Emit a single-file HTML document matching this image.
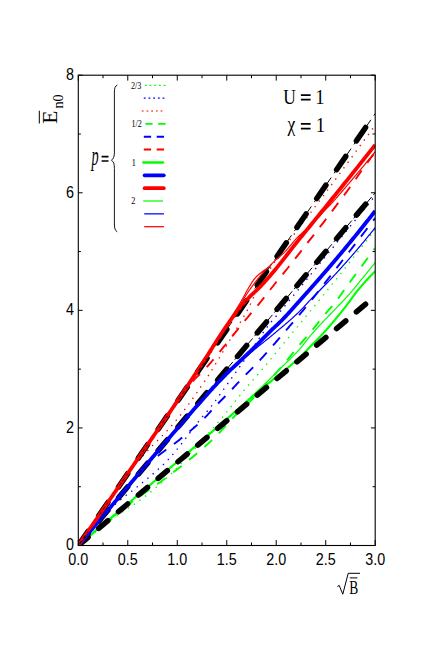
<!DOCTYPE html>
<html><head><meta charset="utf-8"><title>chart</title>
<style>html,body{margin:0;padding:0;background:#fff;}body{width:436px;height:654px;overflow:hidden;font-family:"Liberation Sans",sans-serif;}</style></head>
<body>
<svg width="436" height="654" viewBox="0 0 436 654" style="display:block">
<rect x="0" y="0" width="436" height="654" fill="#ffffff"/>
<defs><clipPath id="pc"><rect x="78.30" y="75.20" width="296.90" height="470.30"/></clipPath></defs>
<g clip-path="url(#pc)" fill="none" stroke-linejoin="round">
<path d="M78.30,545.50 L79.29,544.69 L80.29,543.88 L81.28,543.08 L82.27,542.27 L83.26,541.47 L84.26,540.68 L85.25,539.88 L86.24,539.09 L87.24,538.30 L88.23,537.52 L89.22,536.73 L90.22,535.95 L91.21,535.17 L92.20,534.40 L93.19,533.62 L94.19,532.85 L95.18,532.09 L96.17,531.32 L97.17,530.56 L98.16,529.80 L99.15,529.04 L100.15,528.29 L101.14,527.53 L102.13,526.78 L103.12,526.04 L104.12,525.29 L105.11,524.55 L106.10,523.81 L107.10,523.07 L108.09,522.33 L109.08,521.59 L110.08,520.86 L111.07,520.13 L112.06,519.40 L113.05,518.67 L114.05,517.95 L115.04,517.23 L116.03,516.52 L117.03,515.81 L118.02,515.10 L119.01,514.40 L120.01,513.70 L121.00,513.01 L121.99,512.33 L122.98,511.65 L123.98,510.97 L124.97,510.31 L125.96,509.66 L126.96,509.03 L127.95,508.41 L128.94,507.79 L129.93,507.17 L130.93,506.54 L131.92,505.90 L132.91,505.25 L133.91,504.57 L134.90,503.89 L135.89,503.19 L136.89,502.49 L137.88,501.78 L138.87,501.07 L139.86,500.35 L140.86,499.62 L141.85,498.89 L142.84,498.15 L143.84,497.40 L144.83,496.64 L145.82,495.88 L146.82,495.11 L147.81,494.34 L148.80,493.56 L149.79,492.77 L150.79,491.97 L151.78,491.16 L152.77,490.35 L153.77,489.53 L154.76,488.69 L155.75,487.85 L156.75,486.99 L157.74,486.12 L158.73,485.24 L159.72,484.35 L160.72,483.46 L161.71,482.55 L162.70,481.64 L163.70,480.73 L164.69,479.81 L165.68,478.89 L166.67,477.96 L167.67,477.03 L168.66,476.09 L169.65,475.15 L170.65,474.21 L171.64,473.25 L172.63,472.29 L173.63,471.31 L174.62,470.32 L175.61,469.32 L176.60,468.30 L177.60,467.26 L178.59,466.18 L179.58,465.06 L180.58,463.93 L181.57,462.78 L182.56,461.64 L183.56,460.51 L184.55,459.40 L185.54,458.33 L186.53,457.27 L187.53,456.22 L188.52,455.19 L189.51,454.16 L190.51,453.14 L191.50,452.11 L192.49,451.09 L193.49,450.05 L194.48,449.00 L195.47,447.94 L196.46,446.87 L197.46,445.79 L198.45,444.70 L199.44,443.61 L200.44,442.52 L201.43,441.42 L202.42,440.31 L203.42,439.20 L204.41,438.09 L205.40,436.97 L206.39,435.84 L207.39,434.72 L208.38,433.59 L209.37,432.46 L210.37,431.32 L211.36,430.18 L212.35,429.04 L213.34,427.90 L214.34,426.75 L215.33,425.60 L216.32,424.44 L217.32,423.28 L218.31,422.12 L219.30,420.95 L220.30,419.78 L221.29,418.60 L222.28,417.41 L223.27,416.23 L224.27,415.04 L225.26,413.84 L226.25,412.64 L227.25,411.43 L228.24,410.20 L229.23,408.97 L230.23,407.72 L231.22,406.48 L232.21,405.22 L233.20,403.96 L234.20,402.70 L235.19,401.43 L236.18,400.17 L237.18,398.91 L238.17,397.65 L239.16,396.40 L240.16,395.15 L241.15,393.91 L242.14,392.68 L243.13,391.46 L244.13,390.25 L245.12,389.05 L246.11,387.87 L247.11,386.70 L248.10,385.54 L249.09,384.39 L250.08,383.25 L251.08,382.12 L252.07,380.99 L253.06,379.86 L254.06,378.74 L255.05,377.62 L256.04,376.50 L257.04,375.38 L258.03,374.25 L259.02,373.12 L260.01,371.98 L261.01,370.84 L262.00,369.68 L262.99,368.52 L263.99,367.35 L264.98,366.16 L265.97,364.97 L266.97,363.77 L267.96,362.57 L268.95,361.36 L269.94,360.15 L270.94,358.94 L271.93,357.72 L272.92,356.51 L273.92,355.29 L274.91,354.08 L275.90,352.87 L276.90,351.66 L277.89,350.45 L278.88,349.25 L279.87,348.05 L280.87,346.84 L281.86,345.64 L282.85,344.44 L283.85,343.23 L284.84,342.03 L285.83,340.83 L286.83,339.63 L287.82,338.43 L288.81,337.22 L289.80,336.02 L290.80,334.82 L291.79,333.62 L292.78,332.42 L293.78,331.21 L294.77,330.01 L295.76,328.81 L296.75,327.61 L297.75,326.40 L298.74,325.20 L299.73,323.99 L300.73,322.79 L301.72,321.58 L302.71,320.37 L303.71,319.16 L304.70,317.96 L305.69,316.75 L306.68,315.54 L307.68,314.32 L308.67,313.11 L309.66,311.90 L310.66,310.68 L311.65,309.47 L312.64,308.25 L313.64,307.04 L314.63,305.83 L315.62,304.61 L316.61,303.40 L317.61,302.18 L318.60,300.97 L319.59,299.75 L320.59,298.54 L321.58,297.32 L322.57,296.10 L323.57,294.88 L324.56,293.66 L325.55,292.44 L326.54,291.22 L327.54,289.99 L328.53,288.77 L329.52,287.54 L330.52,286.31 L331.51,285.08 L332.50,283.85 L333.49,282.61 L334.49,281.38 L335.48,280.14 L336.47,278.90 L337.47,277.65 L338.46,276.41 L339.45,275.16 L340.45,273.91 L341.44,272.66 L342.43,271.40 L343.42,270.15 L344.42,268.89 L345.41,267.64 L346.40,266.38 L347.40,265.12 L348.39,263.86 L349.38,262.59 L350.38,261.33 L351.37,260.06 L352.36,258.80 L353.35,257.53 L354.35,256.26 L355.34,254.99 L356.33,253.71 L357.33,252.44 L358.32,251.16 L359.31,249.88 L360.31,248.60 L361.30,247.32 L362.29,246.04 L363.28,244.76 L364.28,243.47 L365.27,242.18 L366.26,240.89 L367.26,239.60 L368.25,238.31 L369.24,237.02 L370.24,235.72 L371.23,234.43 L372.22,233.13 L373.21,231.83 L374.21,230.53 L375.20,229.22" stroke="#00ff00" stroke-width="1.35" stroke-dasharray="1.4 5.5"/>
<path d="M78.30,545.50 L79.29,544.15 L80.29,542.82 L81.28,541.49 L82.27,540.19 L83.26,538.89 L84.26,537.61 L85.25,536.34 L86.24,535.08 L87.24,533.84 L88.23,532.61 L89.22,531.40 L90.22,530.19 L91.21,529.00 L92.20,527.83 L93.19,526.66 L94.19,525.51 L95.18,524.37 L96.17,523.25 L97.17,522.14 L98.16,521.03 L99.15,519.95 L100.15,518.87 L101.14,517.81 L102.13,516.76 L103.12,515.72 L104.12,514.70 L105.11,513.68 L106.10,512.68 L107.10,511.69 L108.09,510.72 L109.08,509.76 L110.08,508.82 L111.07,507.90 L112.06,506.99 L113.05,506.10 L114.05,505.23 L115.04,504.37 L116.03,503.52 L117.03,502.68 L118.02,501.85 L119.01,501.03 L120.01,500.21 L121.00,499.40 L121.99,498.60 L122.98,497.80 L123.98,497.00 L124.97,496.21 L125.96,495.44 L126.96,494.68 L127.95,493.94 L128.94,493.21 L129.93,492.47 L130.93,491.74 L131.92,490.99 L132.91,490.23 L133.91,489.45 L134.90,488.66 L135.89,487.87 L136.89,487.08 L137.88,486.29 L138.87,485.50 L139.86,484.71 L140.86,483.92 L141.85,483.12 L142.84,482.33 L143.84,481.53 L144.83,480.72 L145.82,479.92 L146.82,479.10 L147.81,478.29 L148.80,477.47 L149.79,476.64 L150.79,475.81 L151.78,474.97 L152.77,474.12 L153.77,473.27 L154.76,472.40 L155.75,471.53 L156.75,470.65 L157.74,469.76 L158.73,468.86 L159.72,467.95 L160.72,467.03 L161.71,466.10 L162.70,465.16 L163.70,464.20 L164.69,463.23 L165.68,462.25 L166.67,461.25 L167.67,460.23 L168.66,459.16 L169.65,458.07 L170.65,456.95 L171.64,455.81 L172.63,454.65 L173.63,453.47 L174.62,452.28 L175.61,451.09 L176.60,449.89 L177.60,448.69 L178.59,447.47 L179.58,446.24 L180.58,444.99 L181.57,443.72 L182.56,442.44 L183.56,441.15 L184.55,439.85 L185.54,438.54 L186.53,437.22 L187.53,435.90 L188.52,434.58 L189.51,433.26 L190.51,431.93 L191.50,430.61 L192.49,429.30 L193.49,427.99 L194.48,426.69 L195.47,425.40 L196.46,424.12 L197.46,422.85 L198.45,421.60 L199.44,420.37 L200.44,419.16 L201.43,417.97 L202.42,416.80 L203.42,415.63 L204.41,414.47 L205.40,413.31 L206.39,412.14 L207.39,410.97 L208.38,409.78 L209.37,408.57 L210.37,407.33 L211.36,406.07 L212.35,404.79 L213.34,403.49 L214.34,402.17 L215.33,400.85 L216.32,399.51 L217.32,398.15 L218.31,396.79 L219.30,395.42 L220.30,394.04 L221.29,392.65 L222.28,391.26 L223.27,389.87 L224.27,388.47 L225.26,387.07 L226.25,385.67 L227.25,384.28 L228.24,382.88 L229.23,381.49 L230.23,380.10 L231.22,378.72 L232.21,377.34 L233.20,375.95 L234.20,374.57 L235.19,373.18 L236.18,371.80 L237.18,370.40 L238.17,369.01 L239.16,367.62 L240.16,366.22 L241.15,364.82 L242.14,363.41 L243.13,362.01 L244.13,360.59 L245.12,359.16 L246.11,357.72 L247.11,356.26 L248.10,354.80 L249.09,353.34 L250.08,351.86 L251.08,350.38 L252.07,348.90 L253.06,347.42 L254.06,345.94 L255.05,344.46 L256.04,342.98 L257.04,341.51 L258.03,340.05 L259.02,338.59 L260.01,337.15 L261.01,335.71 L262.00,334.29 L262.99,332.88 L263.99,331.49 L264.98,330.12 L265.97,328.76 L266.97,327.43 L267.96,326.12 L268.95,324.83 L269.94,323.57 L270.94,322.34 L271.93,321.13 L272.92,319.95 L273.92,318.79 L274.91,317.63 L275.90,316.49 L276.90,315.35 L277.89,314.20 L278.88,313.06 L279.87,311.90 L280.87,310.72 L281.86,309.54 L282.85,308.35 L283.85,307.16 L284.84,305.97 L285.83,304.77 L286.83,303.58 L287.82,302.38 L288.81,301.19 L289.80,299.99 L290.80,298.79 L291.79,297.59 L292.78,296.39 L293.78,295.19 L294.77,293.99 L295.76,292.78 L296.75,291.58 L297.75,290.37 L298.74,289.17 L299.73,287.96 L300.73,286.75 L301.72,285.54 L302.71,284.33 L303.71,283.13 L304.70,281.92 L305.69,280.70 L306.68,279.49 L307.68,278.28 L308.67,277.07 L309.66,275.86 L310.66,274.65 L311.65,273.44 L312.64,272.22 L313.64,271.01 L314.63,269.80 L315.62,268.59 L316.61,267.37 L317.61,266.16 L318.60,264.95 L319.59,263.74 L320.59,262.52 L321.58,261.31 L322.57,260.10 L323.57,258.89 L324.56,257.68 L325.55,256.47 L326.54,255.26 L327.54,254.05 L328.53,252.84 L329.52,251.62 L330.52,250.41 L331.51,249.20 L332.50,247.99 L333.49,246.78 L334.49,245.57 L335.48,244.35 L336.47,243.14 L337.47,241.93 L338.46,240.72 L339.45,239.50 L340.45,238.29 L341.44,237.08 L342.43,235.86 L343.42,234.65 L344.42,233.44 L345.41,232.22 L346.40,231.01 L347.40,229.79 L348.39,228.58 L349.38,227.37 L350.38,226.15 L351.37,224.94 L352.36,223.72 L353.35,222.50 L354.35,221.29 L355.34,220.07 L356.33,218.86 L357.33,217.64 L358.32,216.42 L359.31,215.21 L360.31,213.99 L361.30,212.77 L362.29,211.56 L363.28,210.34 L364.28,209.12 L365.27,207.90 L366.26,206.69 L367.26,205.47 L368.25,204.25 L369.24,203.03 L370.24,201.81 L371.23,200.59 L372.22,199.37 L373.21,198.15 L374.21,196.93 L375.20,195.71" stroke="#0000ff" stroke-width="1.35" stroke-dasharray="1.4 5.5"/>
<path d="M78.30,545.50 L79.29,544.04 L80.29,542.58 L81.28,541.12 L82.27,539.66 L83.26,538.21 L84.26,536.75 L85.25,535.30 L86.24,533.85 L87.24,532.39 L88.23,530.94 L89.22,529.49 L90.22,528.05 L91.21,526.60 L92.20,525.15 L93.19,523.71 L94.19,522.26 L95.18,520.82 L96.17,519.38 L97.17,517.93 L98.16,516.49 L99.15,515.06 L100.15,513.62 L101.14,512.18 L102.13,510.74 L103.12,509.31 L104.12,507.87 L105.11,506.44 L106.10,505.01 L107.10,503.58 L108.09,502.15 L109.08,500.71 L110.08,499.26 L111.07,497.80 L112.06,496.34 L113.05,494.86 L114.05,493.38 L115.04,491.90 L116.03,490.42 L117.03,488.94 L118.02,487.46 L119.01,485.99 L120.01,484.52 L121.00,483.06 L121.99,481.61 L122.98,480.17 L123.98,478.75 L124.97,477.34 L125.96,475.94 L126.96,474.56 L127.95,473.21 L128.94,471.88 L129.93,470.57 L130.93,469.28 L131.92,468.02 L132.91,466.80 L133.91,465.60 L134.90,464.43 L135.89,463.29 L136.89,462.17 L137.88,461.07 L138.87,459.98 L139.86,458.91 L140.86,457.85 L141.85,456.80 L142.84,455.75 L143.84,454.70 L144.83,453.65 L145.82,452.59 L146.82,451.53 L147.81,450.48 L148.80,449.45 L149.79,448.42 L150.79,447.40 L151.78,446.38 L152.77,445.37 L153.77,444.37 L154.76,443.36 L155.75,442.36 L156.75,441.36 L157.74,440.36 L158.73,439.36 L159.72,438.35 L160.72,437.34 L161.71,436.33 L162.70,435.31 L163.70,434.28 L164.69,433.25 L165.68,432.20 L166.67,431.15 L167.67,430.08 L168.66,429.00 L169.65,427.91 L170.65,426.81 L171.64,425.70 L172.63,424.58 L173.63,423.45 L174.62,422.29 L175.61,421.12 L176.60,419.92 L177.60,418.70 L178.59,417.46 L179.58,416.20 L180.58,414.94 L181.57,413.66 L182.56,412.37 L183.56,411.07 L184.55,409.76 L185.54,408.44 L186.53,407.11 L187.53,405.77 L188.52,404.41 L189.51,403.05 L190.51,401.68 L191.50,400.30 L192.49,398.91 L193.49,397.51 L194.48,396.10 L195.47,394.68 L196.46,393.25 L197.46,391.82 L198.45,390.38 L199.44,388.93 L200.44,387.47 L201.43,386.01 L202.42,384.54 L203.42,383.06 L204.41,381.58 L205.40,380.09 L206.39,378.59 L207.39,377.09 L208.38,375.56 L209.37,374.01 L210.37,372.44 L211.36,370.86 L212.35,369.26 L213.34,367.65 L214.34,366.03 L215.33,364.40 L216.32,362.75 L217.32,361.10 L218.31,359.45 L219.30,357.79 L220.30,356.14 L221.29,354.48 L222.28,352.82 L223.27,351.17 L224.27,349.52 L225.26,347.86 L226.25,346.20 L227.25,344.53 L228.24,342.86 L229.23,341.18 L230.23,339.50 L231.22,337.82 L232.21,336.13 L233.20,334.44 L234.20,332.75 L235.19,331.06 L236.18,329.36 L237.18,327.67 L238.17,326.00 L239.16,324.33 L240.16,322.66 L241.15,321.00 L242.14,319.32 L243.13,317.63 L244.13,315.92 L245.12,314.18 L246.11,312.40 L247.11,310.58 L248.10,308.70 L249.09,306.73 L250.08,304.72 L251.08,302.67 L252.07,300.62 L253.06,298.59 L254.06,296.60 L255.05,294.69 L256.04,292.85 L257.04,291.03 L258.03,289.23 L259.02,287.45 L260.01,285.69 L261.01,283.94 L262.00,282.22 L262.99,280.51 L263.99,278.82 L264.98,277.15 L265.97,275.50 L266.97,273.87 L267.96,272.26 L268.95,270.66 L269.94,269.09 L270.94,267.53 L271.93,265.99 L272.92,264.47 L273.92,262.96 L274.91,261.46 L275.90,259.97 L276.90,258.49 L277.89,257.02 L278.88,255.57 L279.87,254.12 L280.87,252.68 L281.86,251.26 L282.85,249.84 L283.85,248.43 L284.84,247.03 L285.83,245.64 L286.83,244.26 L287.82,242.88 L288.81,241.51 L289.80,240.15 L290.80,238.79 L291.79,237.44 L292.78,236.10 L293.78,234.76 L294.77,233.43 L295.76,232.10 L296.75,230.77 L297.75,229.46 L298.74,228.14 L299.73,226.83 L300.73,225.52 L301.72,224.21 L302.71,222.91 L303.71,221.61 L304.70,220.31 L305.69,219.01 L306.68,217.72 L307.68,216.42 L308.67,215.13 L309.66,213.84 L310.66,212.54 L311.65,211.25 L312.64,209.95 L313.64,208.66 L314.63,207.36 L315.62,206.06 L316.61,204.76 L317.61,203.46 L318.60,202.15 L319.59,200.84 L320.59,199.53 L321.58,198.21 L322.57,196.89 L323.57,195.57 L324.56,194.24 L325.55,192.91 L326.54,191.57 L327.54,190.22 L328.53,188.87 L329.52,187.52 L330.52,186.16 L331.51,184.81 L332.50,183.45 L333.49,182.10 L334.49,180.74 L335.48,179.39 L336.47,178.03 L337.47,176.68 L338.46,175.32 L339.45,173.97 L340.45,172.61 L341.44,171.26 L342.43,169.90 L343.42,168.55 L344.42,167.19 L345.41,165.84 L346.40,164.48 L347.40,163.13 L348.39,161.77 L349.38,160.42 L350.38,159.06 L351.37,157.71 L352.36,156.35 L353.35,155.00 L354.35,153.64 L355.34,152.29 L356.33,150.93 L357.33,149.57 L358.32,148.22 L359.31,146.86 L360.31,145.51 L361.30,144.15 L362.29,142.80 L363.28,141.44 L364.28,140.08 L365.27,138.73 L366.26,137.37 L367.26,136.02 L368.25,134.66 L369.24,133.31 L370.24,131.95 L371.23,130.59 L372.22,129.24 L373.21,127.88 L374.21,126.53 L375.20,125.17" stroke="#ff0000" stroke-width="1.35" stroke-dasharray="1.4 5.5"/>
<path d="M78.30,545.50 L79.29,544.62 L80.29,543.74 L81.28,542.87 L82.27,542.00 L83.26,541.13 L84.26,540.26 L85.25,539.40 L86.24,538.54 L87.24,537.68 L88.23,536.82 L89.22,535.97 L90.22,535.12 L91.21,534.28 L92.20,533.43 L93.19,532.59 L94.19,531.76 L95.18,530.92 L96.17,530.09 L97.17,529.26 L98.16,528.43 L99.15,527.61 L100.15,526.79 L101.14,525.97 L102.13,525.15 L103.12,524.34 L104.12,523.53 L105.11,522.72 L106.10,521.92 L107.10,521.12 L108.09,520.32 L109.08,519.52 L110.08,518.73 L111.07,517.94 L112.06,517.15 L113.05,516.36 L114.05,515.58 L115.04,514.80 L116.03,514.02 L117.03,513.25 L118.02,512.48 L119.01,511.71 L120.01,510.94 L121.00,510.18 L121.99,509.43 L122.98,508.68 L123.98,507.93 L124.97,507.18 L125.96,506.44 L126.96,505.70 L127.95,504.97 L128.94,504.24 L129.93,503.51 L130.93,502.78 L131.92,502.06 L132.91,501.33 L133.91,500.61 L134.90,499.90 L135.89,499.18 L136.89,498.46 L137.88,497.75 L138.87,497.04 L139.86,496.33 L140.86,495.62 L141.85,494.91 L142.84,494.20 L143.84,493.49 L144.83,492.79 L145.82,492.08 L146.82,491.37 L147.81,490.66 L148.80,489.96 L149.79,489.26 L150.79,488.57 L151.78,487.89 L152.77,487.21 L153.77,486.53 L154.76,485.84 L155.75,485.16 L156.75,484.48 L157.74,483.80 L158.73,483.11 L159.72,482.41 L160.72,481.71 L161.71,481.00 L162.70,480.28 L163.70,479.56 L164.69,478.82 L165.68,478.08 L166.67,477.33 L167.67,476.57 L168.66,475.81 L169.65,475.05 L170.65,474.28 L171.64,473.51 L172.63,472.74 L173.63,471.98 L174.62,471.21 L175.61,470.45 L176.60,469.68 L177.60,468.93 L178.59,468.17 L179.58,467.41 L180.58,466.65 L181.57,465.89 L182.56,465.13 L183.56,464.36 L184.55,463.59 L185.54,462.81 L186.53,462.02 L187.53,461.23 L188.52,460.42 L189.51,459.61 L190.51,458.79 L191.50,457.97 L192.49,457.15 L193.49,456.32 L194.48,455.49 L195.47,454.66 L196.46,453.82 L197.46,452.98 L198.45,452.14 L199.44,451.29 L200.44,450.44 L201.43,449.58 L202.42,448.72 L203.42,447.85 L204.41,446.97 L205.40,446.09 L206.39,445.20 L207.39,444.31 L208.38,443.41 L209.37,442.50 L210.37,441.58 L211.36,440.65 L212.35,439.72 L213.34,438.78 L214.34,437.82 L215.33,436.86 L216.32,435.89 L217.32,434.91 L218.31,433.90 L219.30,432.86 L220.30,431.79 L221.29,430.71 L222.28,429.61 L223.27,428.49 L224.27,427.37 L225.26,426.25 L226.25,425.13 L227.25,424.01 L228.24,422.90 L229.23,421.81 L230.23,420.74 L231.22,419.69 L232.21,418.67 L233.20,417.66 L234.20,416.67 L235.19,415.69 L236.18,414.72 L237.18,413.76 L238.17,412.81 L239.16,411.86 L240.16,410.91 L241.15,409.97 L242.14,409.03 L243.13,408.09 L244.13,407.14 L245.12,406.19 L246.11,405.24 L247.11,404.27 L248.10,403.30 L249.09,402.32 L250.08,401.32 L251.08,400.31 L252.07,399.28 L253.06,398.25 L254.06,397.22 L255.05,396.17 L256.04,395.13 L257.04,394.07 L258.03,393.02 L259.02,391.96 L260.01,390.89 L261.01,389.82 L262.00,388.74 L262.99,387.66 L263.99,386.58 L264.98,385.49 L265.97,384.39 L266.97,383.30 L267.96,382.19 L268.95,381.09 L269.94,379.98 L270.94,378.86 L271.93,377.74 L272.92,376.62 L273.92,375.49 L274.91,374.36 L275.90,373.23 L276.90,372.09 L277.89,370.95 L278.88,369.80 L279.87,368.65 L280.87,367.50 L281.86,366.35 L282.85,365.19 L283.85,364.02 L284.84,362.86 L285.83,361.67 L286.83,360.47 L287.82,359.26 L288.81,358.03 L289.80,356.80 L290.80,355.56 L291.79,354.32 L292.78,353.08 L293.78,351.84 L294.77,350.61 L295.76,349.39 L296.75,348.18 L297.75,346.99 L298.74,345.81 L299.73,344.64 L300.73,343.48 L301.72,342.34 L302.71,341.19 L303.71,340.05 L304.70,338.92 L305.69,337.78 L306.68,336.64 L307.68,335.49 L308.67,334.34 L309.66,333.18 L310.66,332.01 L311.65,330.82 L312.64,329.62 L313.64,328.40 L314.63,327.17 L315.62,325.93 L316.61,324.69 L317.61,323.44 L318.60,322.18 L319.59,320.93 L320.59,319.68 L321.58,318.44 L322.57,317.21 L323.57,315.99 L324.56,314.79 L325.55,313.60 L326.54,312.45 L327.54,311.32 L328.53,310.21 L329.52,309.11 L330.52,308.00 L331.51,306.87 L332.50,305.72 L333.49,304.54 L334.49,303.31 L335.48,302.05 L336.47,300.76 L337.47,299.44 L338.46,298.10 L339.45,296.74 L340.45,295.36 L341.44,293.97 L342.43,292.57 L343.42,291.17 L344.42,289.77 L345.41,288.36 L346.40,286.96 L347.40,285.58 L348.39,284.20 L349.38,282.84 L350.38,281.49 L351.37,280.14 L352.36,278.79 L353.35,277.44 L354.35,276.09 L355.34,274.75 L356.33,273.40 L357.33,272.06 L358.32,270.71 L359.31,269.37 L360.31,268.03 L361.30,266.69 L362.29,265.35 L363.28,264.01 L364.28,262.67 L365.27,261.34 L366.26,260.00 L367.26,258.67 L368.25,257.33 L369.24,256.00 L370.24,254.67 L371.23,253.34 L372.22,252.01 L373.21,250.69 L374.21,249.36 L375.20,248.04" stroke="#00ff00" stroke-width="1.9" stroke-dasharray="10.5 9.5"/>
<path d="M78.30,545.50 L79.29,544.27 L80.29,543.04 L81.28,541.81 L82.27,540.59 L83.26,539.37 L84.26,538.15 L85.25,536.93 L86.24,535.72 L87.24,534.51 L88.23,533.30 L89.22,532.09 L90.22,530.88 L91.21,529.68 L92.20,528.48 L93.19,527.28 L94.19,526.09 L95.18,524.89 L96.17,523.70 L97.17,522.51 L98.16,521.32 L99.15,520.13 L100.15,518.95 L101.14,517.77 L102.13,516.59 L103.12,515.41 L104.12,514.23 L105.11,513.06 L106.10,511.89 L107.10,510.72 L108.09,509.55 L109.08,508.38 L110.08,507.22 L111.07,506.05 L112.06,504.89 L113.05,503.73 L114.05,502.57 L115.04,501.42 L116.03,500.26 L117.03,499.11 L118.02,497.96 L119.01,496.81 L120.01,495.66 L121.00,494.51 L121.99,493.37 L122.98,492.22 L123.98,491.08 L124.97,489.94 L125.96,488.80 L126.96,487.66 L127.95,486.52 L128.94,485.38 L129.93,484.23 L130.93,483.07 L131.92,481.91 L132.91,480.74 L133.91,479.58 L134.90,478.42 L135.89,477.26 L136.89,476.11 L137.88,474.96 L138.87,473.83 L139.86,472.71 L140.86,471.60 L141.85,470.51 L142.84,469.44 L143.84,468.39 L144.83,467.37 L145.82,466.37 L146.82,465.39 L147.81,464.45 L148.80,463.53 L149.79,462.64 L150.79,461.76 L151.78,460.90 L152.77,460.07 L153.77,459.24 L154.76,458.43 L155.75,457.63 L156.75,456.84 L157.74,456.06 L158.73,455.28 L159.72,454.50 L160.72,453.73 L161.71,452.96 L162.70,452.19 L163.70,451.44 L164.69,450.70 L165.68,449.97 L166.67,449.25 L167.67,448.53 L168.66,447.82 L169.65,447.11 L170.65,446.40 L171.64,445.68 L172.63,444.96 L173.63,444.23 L174.62,443.49 L175.61,442.74 L176.60,441.97 L177.60,441.20 L178.59,440.42 L179.58,439.64 L180.58,438.86 L181.57,438.06 L182.56,437.27 L183.56,436.47 L184.55,435.66 L185.54,434.85 L186.53,434.03 L187.53,433.21 L188.52,432.38 L189.51,431.55 L190.51,430.71 L191.50,429.87 L192.49,429.03 L193.49,428.19 L194.48,427.34 L195.47,426.49 L196.46,425.63 L197.46,424.75 L198.45,423.87 L199.44,422.97 L200.44,422.05 L201.43,421.12 L202.42,420.17 L203.42,419.19 L204.41,418.19 L205.40,417.15 L206.39,416.10 L207.39,415.03 L208.38,413.95 L209.37,412.86 L210.37,411.76 L211.36,410.67 L212.35,409.57 L213.34,408.49 L214.34,407.41 L215.33,406.35 L216.32,405.31 L217.32,404.29 L218.31,403.27 L219.30,402.26 L220.30,401.25 L221.29,400.25 L222.28,399.25 L223.27,398.25 L224.27,397.25 L225.26,396.25 L226.25,395.24 L227.25,394.23 L228.24,393.22 L229.23,392.19 L230.23,391.15 L231.22,390.10 L232.21,389.05 L233.20,387.98 L234.20,386.92 L235.19,385.84 L236.18,384.77 L237.18,383.70 L238.17,382.62 L239.16,381.55 L240.16,380.49 L241.15,379.43 L242.14,378.38 L243.13,377.34 L244.13,376.31 L245.12,375.30 L246.11,374.29 L247.11,373.30 L248.10,372.30 L249.09,371.32 L250.08,370.33 L251.08,369.34 L252.07,368.35 L253.06,367.35 L254.06,366.35 L255.05,365.33 L256.04,364.30 L257.04,363.26 L258.03,362.20 L259.02,361.13 L260.01,360.05 L261.01,358.96 L262.00,357.87 L262.99,356.77 L263.99,355.66 L264.98,354.54 L265.97,353.42 L266.97,352.30 L267.96,351.18 L268.95,350.06 L269.94,348.93 L270.94,347.81 L271.93,346.68 L272.92,345.55 L273.92,344.42 L274.91,343.28 L275.90,342.14 L276.90,341.00 L277.89,339.85 L278.88,338.70 L279.87,337.55 L280.87,336.40 L281.86,335.24 L282.85,334.09 L283.85,332.93 L284.84,331.77 L285.83,330.61 L286.83,329.46 L287.82,328.30 L288.81,327.15 L289.80,325.99 L290.80,324.83 L291.79,323.67 L292.78,322.52 L293.78,321.35 L294.77,320.19 L295.76,319.03 L296.75,317.86 L297.75,316.69 L298.74,315.52 L299.73,314.35 L300.73,313.17 L301.72,311.99 L302.71,310.81 L303.71,309.62 L304.70,308.43 L305.69,307.23 L306.68,306.03 L307.68,304.82 L308.67,303.61 L309.66,302.39 L310.66,301.16 L311.65,299.93 L312.64,298.68 L313.64,297.43 L314.63,296.17 L315.62,294.91 L316.61,293.64 L317.61,292.36 L318.60,291.09 L319.59,289.81 L320.59,288.53 L321.58,287.25 L322.57,285.98 L323.57,284.70 L324.56,283.43 L325.55,282.16 L326.54,280.89 L327.54,279.62 L328.53,278.34 L329.52,277.07 L330.52,275.80 L331.51,274.53 L332.50,273.25 L333.49,271.98 L334.49,270.70 L335.48,269.43 L336.47,268.15 L337.47,266.88 L338.46,265.60 L339.45,264.33 L340.45,263.05 L341.44,261.77 L342.43,260.49 L343.42,259.22 L344.42,257.94 L345.41,256.66 L346.40,255.38 L347.40,254.10 L348.39,252.82 L349.38,251.54 L350.38,250.26 L351.37,248.98 L352.36,247.69 L353.35,246.41 L354.35,245.13 L355.34,243.85 L356.33,242.56 L357.33,241.28 L358.32,239.99 L359.31,238.71 L360.31,237.42 L361.30,236.13 L362.29,234.85 L363.28,233.56 L364.28,232.27 L365.27,230.98 L366.26,229.69 L367.26,228.40 L368.25,227.11 L369.24,225.82 L370.24,224.52 L371.23,223.23 L372.22,221.94 L373.21,220.64 L374.21,219.35 L375.20,218.05" stroke="#0000ff" stroke-width="1.9" stroke-dasharray="10.5 9.5"/>
<path d="M78.30,545.50 L79.29,544.05 L80.29,542.61 L81.28,541.16 L82.27,539.72 L83.26,538.27 L84.26,536.83 L85.25,535.38 L86.24,533.94 L87.24,532.49 L88.23,531.05 L89.22,529.60 L90.22,528.16 L91.21,526.71 L92.20,525.27 L93.19,523.82 L94.19,522.38 L95.18,520.93 L96.17,519.49 L97.17,518.04 L98.16,516.60 L99.15,515.15 L100.15,513.71 L101.14,512.26 L102.13,510.82 L103.12,509.37 L104.12,507.93 L105.11,506.48 L106.10,505.04 L107.10,503.59 L108.09,502.15 L109.08,500.70 L110.08,499.26 L111.07,497.81 L112.06,496.37 L113.05,494.92 L114.05,493.48 L115.04,492.03 L116.03,490.59 L117.03,489.14 L118.02,487.70 L119.01,486.25 L120.01,484.81 L121.00,483.36 L121.99,481.92 L122.98,480.47 L123.98,479.02 L124.97,477.58 L125.96,476.13 L126.96,474.69 L127.95,473.24 L128.94,471.80 L129.93,470.35 L130.93,468.89 L131.92,467.44 L132.91,465.98 L133.91,464.51 L134.90,463.05 L135.89,461.58 L136.89,460.11 L137.88,458.64 L138.87,457.17 L139.86,455.70 L140.86,454.23 L141.85,452.75 L142.84,451.28 L143.84,449.80 L144.83,448.33 L145.82,446.85 L146.82,445.38 L147.81,443.90 L148.80,442.43 L149.79,440.96 L150.79,439.48 L151.78,438.01 L152.77,436.55 L153.77,435.08 L154.76,433.62 L155.75,432.15 L156.75,430.69 L157.74,429.24 L158.73,427.78 L159.72,426.33 L160.72,424.89 L161.71,423.44 L162.70,422.00 L163.70,420.57 L164.69,419.14 L165.68,417.71 L166.67,416.29 L167.67,414.87 L168.66,413.46 L169.65,412.05 L170.65,410.65 L171.64,409.26 L172.63,407.87 L173.63,406.48 L174.62,405.11 L175.61,403.74 L176.60,402.38 L177.60,401.02 L178.59,399.66 L179.58,398.30 L180.58,396.94 L181.57,395.58 L182.56,394.23 L183.56,392.89 L184.55,391.56 L185.54,390.24 L186.53,388.94 L187.53,387.66 L188.52,386.40 L189.51,385.16 L190.51,383.96 L191.50,382.78 L192.49,381.64 L193.49,380.53 L194.48,379.47 L195.47,378.43 L196.46,377.42 L197.46,376.43 L198.45,375.45 L199.44,374.49 L200.44,373.52 L201.43,372.56 L202.42,371.59 L203.42,370.61 L204.41,369.61 L205.40,368.59 L206.39,367.54 L207.39,366.46 L208.38,365.36 L209.37,364.23 L210.37,363.09 L211.36,361.93 L212.35,360.75 L213.34,359.57 L214.34,358.37 L215.33,357.17 L216.32,355.96 L217.32,354.74 L218.31,353.53 L219.30,352.31 L220.30,351.09 L221.29,349.88 L222.28,348.67 L223.27,347.44 L224.27,346.21 L225.26,344.98 L226.25,343.74 L227.25,342.49 L228.24,341.25 L229.23,340.00 L230.23,338.75 L231.22,337.51 L232.21,336.27 L233.20,335.04 L234.20,333.81 L235.19,332.58 L236.18,331.36 L237.18,330.14 L238.17,328.91 L239.16,327.69 L240.16,326.47 L241.15,325.25 L242.14,324.04 L243.13,322.82 L244.13,321.61 L245.12,320.40 L246.11,319.19 L247.11,317.99 L248.10,316.79 L249.09,315.59 L250.08,314.41 L251.08,313.23 L252.07,312.06 L253.06,310.89 L254.06,309.72 L255.05,308.55 L256.04,307.38 L257.04,306.20 L258.03,305.02 L259.02,303.83 L260.01,302.63 L261.01,301.42 L262.00,300.20 L262.99,298.96 L263.99,297.71 L264.98,296.44 L265.97,295.17 L266.97,293.89 L267.96,292.61 L268.95,291.32 L269.94,290.04 L270.94,288.76 L271.93,287.49 L272.92,286.23 L273.92,284.98 L274.91,283.74 L275.90,282.51 L276.90,281.29 L277.89,280.08 L278.88,278.88 L279.87,277.68 L280.87,276.48 L281.86,275.29 L282.85,274.09 L283.85,272.89 L284.84,271.68 L285.83,270.47 L286.83,269.25 L287.82,268.02 L288.81,266.77 L289.80,265.52 L290.80,264.27 L291.79,263.01 L292.78,261.74 L293.78,260.47 L294.77,259.20 L295.76,257.92 L296.75,256.64 L297.75,255.37 L298.74,254.09 L299.73,252.82 L300.73,251.55 L301.72,250.28 L302.71,249.02 L303.71,247.75 L304.70,246.49 L305.69,245.22 L306.68,243.96 L307.68,242.69 L308.67,241.43 L309.66,240.17 L310.66,238.90 L311.65,237.64 L312.64,236.38 L313.64,235.11 L314.63,233.84 L315.62,232.57 L316.61,231.30 L317.61,230.03 L318.60,228.76 L319.59,227.48 L320.59,226.20 L321.58,224.92 L322.57,223.64 L323.57,222.35 L324.56,221.06 L325.55,219.76 L326.54,218.47 L327.54,217.16 L328.53,215.85 L329.52,214.54 L330.52,213.22 L331.51,211.89 L332.50,210.57 L333.49,209.24 L334.49,207.91 L335.48,206.58 L336.47,205.25 L337.47,203.92 L338.46,202.60 L339.45,201.27 L340.45,199.96 L341.44,198.65 L342.43,197.33 L343.42,196.02 L344.42,194.71 L345.41,193.39 L346.40,192.06 L347.40,190.73 L348.39,189.39 L349.38,188.04 L350.38,186.68 L351.37,185.30 L352.36,183.90 L353.35,182.48 L354.35,181.05 L355.34,179.61 L356.33,178.17 L357.33,176.72 L358.32,175.28 L359.31,173.85 L360.31,172.43 L361.30,171.02 L362.29,169.63 L363.28,168.26 L364.28,166.88 L365.27,165.52 L366.26,164.16 L367.26,162.81 L368.25,161.46 L369.24,160.12 L370.24,158.78 L371.23,157.46 L372.22,156.14 L373.21,154.82 L374.21,153.51 L375.20,152.21" stroke="#ff0000" stroke-width="1.9" stroke-dasharray="10.5 9.5"/>
<path d="M78.30,545.50 L79.29,544.67 L80.29,543.83 L81.28,543.00 L82.27,542.17 L83.26,541.33 L84.26,540.50 L85.25,539.67 L86.24,538.83 L87.24,538.00 L88.23,537.16 L89.22,536.33 L90.22,535.50 L91.21,534.66 L92.20,533.83 L93.19,532.99 L94.19,532.16 L95.18,531.32 L96.17,530.49 L97.17,529.65 L98.16,528.81 L99.15,527.98 L100.15,527.14 L101.14,526.31 L102.13,525.47 L103.12,524.63 L104.12,523.80 L105.11,522.96 L106.10,522.12 L107.10,521.29 L108.09,520.45 L109.08,519.61 L110.08,518.78 L111.07,517.94 L112.06,517.10 L113.05,516.26 L114.05,515.43 L115.04,514.59 L116.03,513.75 L117.03,512.91 L118.02,512.07 L119.01,511.23 L120.01,510.39 L121.00,509.56 L121.99,508.72 L122.98,507.88 L123.98,507.04 L124.97,506.20 L125.96,505.36 L126.96,504.52 L127.95,503.68 L128.94,502.84 L129.93,502.00 L130.93,501.16 L131.92,500.32 L132.91,499.48 L133.91,498.64 L134.90,497.80 L135.89,496.96 L136.89,496.12 L137.88,495.28 L138.87,494.44 L139.86,493.60 L140.86,492.76 L141.85,491.92 L142.84,491.08 L143.84,490.23 L144.83,489.39 L145.82,488.55 L146.82,487.71 L147.81,486.87 L148.80,486.03 L149.79,485.19 L150.79,484.34 L151.78,483.50 L152.77,482.66 L153.77,481.82 L154.76,480.97 L155.75,480.13 L156.75,479.29 L157.74,478.44 L158.73,477.60 L159.72,476.75 L160.72,475.91 L161.71,475.06 L162.70,474.22 L163.70,473.37 L164.69,472.53 L165.68,471.68 L166.67,470.84 L167.67,469.99 L168.66,469.14 L169.65,468.30 L170.65,467.45 L171.64,466.60 L172.63,465.75 L173.63,464.90 L174.62,464.05 L175.61,463.20 L176.60,462.35 L177.60,461.50 L178.59,460.65 L179.58,459.80 L180.58,458.95 L181.57,458.10 L182.56,457.24 L183.56,456.39 L184.55,455.54 L185.54,454.68 L186.53,453.83 L187.53,452.97 L188.52,452.12 L189.51,451.26 L190.51,450.41 L191.50,449.55 L192.49,448.69 L193.49,447.84 L194.48,446.98 L195.47,446.12 L196.46,445.27 L197.46,444.41 L198.45,443.55 L199.44,442.69 L200.44,441.83 L201.43,440.97 L202.42,440.12 L203.42,439.26 L204.41,438.40 L205.40,437.54 L206.39,436.68 L207.39,435.82 L208.38,434.96 L209.37,434.10 L210.37,433.24 L211.36,432.38 L212.35,431.52 L213.34,430.66 L214.34,429.80 L215.33,428.94 L216.32,428.08 L217.32,427.22 L218.31,426.36 L219.30,425.50 L220.30,424.64 L221.29,423.78 L222.28,422.92 L223.27,422.06 L224.27,421.20 L225.26,420.34 L226.25,419.48 L227.25,418.62 L228.24,417.76 L229.23,416.90 L230.23,416.03 L231.22,415.17 L232.21,414.30 L233.20,413.44 L234.20,412.57 L235.19,411.71 L236.18,410.84 L237.18,409.98 L238.17,409.11 L239.16,408.25 L240.16,407.38 L241.15,406.52 L242.14,405.66 L243.13,404.80 L244.13,403.94 L245.12,403.08 L246.11,402.22 L247.11,401.37 L248.10,400.52 L249.09,399.67 L250.08,398.82 L251.08,397.97 L252.07,397.13 L253.06,396.28 L254.06,395.44 L255.05,394.60 L256.04,393.76 L257.04,392.92 L258.03,392.08 L259.02,391.25 L260.01,390.41 L261.01,389.58 L262.00,388.75 L262.99,387.92 L263.99,387.09 L264.98,386.26 L265.97,385.43 L266.97,384.61 L267.96,383.79 L268.95,382.96 L269.94,382.14 L270.94,381.33 L271.93,380.51 L272.92,379.70 L273.92,378.89 L274.91,378.08 L275.90,377.28 L276.90,376.47 L277.89,375.67 L278.88,374.87 L279.87,374.07 L280.87,373.26 L281.86,372.46 L282.85,371.67 L283.85,370.88 L284.84,370.09 L285.83,369.30 L286.83,368.51 L287.82,367.70 L288.81,366.89 L289.80,366.07 L290.80,365.24 L291.79,364.39 L292.78,363.53 L293.78,362.66 L294.77,361.79 L295.76,360.90 L296.75,360.01 L297.75,359.10 L298.74,358.19 L299.73,357.26 L300.73,356.32 L301.72,355.37 L302.71,354.40 L303.71,353.41 L304.70,352.41 L305.69,351.39 L306.68,350.37 L307.68,349.35 L308.67,348.32 L309.66,347.30 L310.66,346.28 L311.65,345.27 L312.64,344.26 L313.64,343.26 L314.63,342.26 L315.62,341.25 L316.61,340.24 L317.61,339.23 L318.60,338.20 L319.59,337.17 L320.59,336.12 L321.58,335.05 L322.57,333.98 L323.57,332.89 L324.56,331.80 L325.55,330.69 L326.54,329.58 L327.54,328.45 L328.53,327.32 L329.52,326.18 L330.52,325.03 L331.51,323.87 L332.50,322.71 L333.49,321.53 L334.49,320.35 L335.48,319.16 L336.47,317.96 L337.47,316.76 L338.46,315.54 L339.45,314.32 L340.45,313.09 L341.44,311.86 L342.43,310.61 L343.42,309.37 L344.42,308.11 L345.41,306.85 L346.40,305.56 L347.40,304.24 L348.39,302.91 L349.38,301.56 L350.38,300.21 L351.37,298.85 L352.36,297.49 L353.35,296.14 L354.35,294.81 L355.34,293.50 L356.33,292.21 L357.33,290.95 L358.32,289.73 L359.31,288.53 L360.31,287.35 L361.30,286.18 L362.29,285.03 L363.28,283.88 L364.28,282.75 L365.27,281.63 L366.26,280.52 L367.26,279.42 L368.25,278.34 L369.24,277.27 L370.24,276.22 L371.23,275.19 L372.22,274.16 L373.21,273.16 L374.21,272.17 L375.20,271.20" stroke="#00ff00" stroke-width="2.1"/>
<path d="M78.30,545.50 L79.29,544.67 L80.29,543.83 L81.28,543.00 L82.27,542.17 L83.26,541.33 L84.26,540.50 L85.25,539.67 L86.24,538.83 L87.24,538.00 L88.23,537.16 L89.22,536.33 L90.22,535.50 L91.21,534.66 L92.20,533.83 L93.19,532.99 L94.19,532.16 L95.18,531.32 L96.17,530.49 L97.17,529.65 L98.16,528.81 L99.15,527.98 L100.15,527.14 L101.14,526.31 L102.13,525.47 L103.12,524.63 L104.12,523.80 L105.11,522.96 L106.10,522.12 L107.10,521.29 L108.09,520.45 L109.08,519.61 L110.08,518.78 L111.07,517.94 L112.06,517.10 L113.05,516.26 L114.05,515.43 L115.04,514.59 L116.03,513.75 L117.03,512.91 L118.02,512.07 L119.01,511.23 L120.01,510.39 L121.00,509.56 L121.99,508.72 L122.98,507.88 L123.98,507.04 L124.97,506.20 L125.96,505.36 L126.96,504.52 L127.95,503.68 L128.94,502.84 L129.93,502.00 L130.93,501.16 L131.92,500.32 L132.91,499.48 L133.91,498.64 L134.90,497.80 L135.89,496.96 L136.89,496.12 L137.88,495.28 L138.87,494.44 L139.86,493.60 L140.86,492.76 L141.85,491.92 L142.84,491.08 L143.84,490.23 L144.83,489.39 L145.82,488.55 L146.82,487.71 L147.81,486.87 L148.80,486.03 L149.79,485.19 L150.79,484.34 L151.78,483.50 L152.77,482.66 L153.77,481.82 L154.76,480.97 L155.75,480.13 L156.75,479.29 L157.74,478.44 L158.73,477.60 L159.72,476.75 L160.72,475.91 L161.71,475.06 L162.70,474.22 L163.70,473.37 L164.69,472.53 L165.68,471.68 L166.67,470.84 L167.67,469.99 L168.66,469.14 L169.65,468.30 L170.65,467.45 L171.64,466.60 L172.63,465.75 L173.63,464.90 L174.62,464.05 L175.61,463.20 L176.60,462.35 L177.60,461.50 L178.59,460.65 L179.58,459.80 L180.58,458.95 L181.57,458.10 L182.56,457.26 L183.56,456.41 L184.55,455.56 L185.54,454.71 L186.53,453.86 L187.53,453.01 L188.52,452.16 L189.51,451.31 L190.51,450.46 L191.50,449.62 L192.49,448.77 L193.49,447.92 L194.48,447.07 L195.47,446.22 L196.46,445.37 L197.46,444.52 L198.45,443.66 L199.44,442.81 L200.44,441.96 L201.43,441.11 L202.42,440.25 L203.42,439.40 L204.41,438.55 L205.40,437.69 L206.39,436.83 L207.39,435.98 L208.38,435.12 L209.37,434.26 L210.37,433.40 L211.36,432.54 L212.35,431.68 L213.34,430.82 L214.34,429.95 L215.33,429.09 L216.32,428.22 L217.32,427.35 L218.31,426.49 L219.30,425.62 L220.30,424.74 L221.29,423.87 L222.28,423.00 L223.27,422.12 L224.27,421.25 L225.26,420.37 L226.25,419.49 L227.25,418.61 L228.24,417.72 L229.23,416.84 L230.23,415.95 L231.22,415.07 L232.21,414.18 L233.20,413.28 L234.20,412.39 L235.19,411.50 L236.18,410.60 L237.18,409.70 L238.17,408.80 L239.16,407.90 L240.16,407.00 L241.15,406.09 L242.14,405.19 L243.13,404.28 L244.13,403.37 L245.12,402.46 L246.11,401.54 L247.11,400.63 L248.10,399.71 L249.09,398.79 L250.08,397.87 L251.08,396.95 L252.07,396.02 L253.06,395.10 L254.06,394.17 L255.05,393.24 L256.04,392.30 L257.04,391.37 L258.03,390.43 L259.02,389.49 L260.01,388.54 L261.01,387.60 L262.00,386.64 L262.99,385.69 L263.99,384.73 L264.98,383.77 L265.97,382.81 L266.97,381.84 L267.96,380.86 L268.95,379.88 L269.94,378.90 L270.94,377.91 L271.93,376.92 L272.92,375.93 L273.92,374.93 L274.91,373.93 L275.90,372.94 L276.90,371.94 L277.89,370.94 L278.88,369.95 L279.87,368.96 L280.87,367.98 L281.86,367.01 L282.85,366.04 L283.85,365.08 L284.84,364.13 L285.83,363.17 L286.83,362.22 L287.82,361.27 L288.81,360.31 L289.80,359.35 L290.80,358.38 L291.79,357.40 L292.78,356.41 L293.78,355.41 L294.77,354.40 L295.76,353.38 L296.75,352.33 L297.75,351.27 L298.74,350.19 L299.73,349.08 L300.73,347.94 L301.72,346.75 L302.71,345.51 L303.71,344.23 L304.70,342.94 L305.69,341.64 L306.68,340.34 L307.68,339.06 L308.67,337.81 L309.66,336.59 L310.66,335.42 L311.65,334.27 L312.64,333.12 L313.64,331.99 L314.63,330.87 L315.62,329.76 L316.61,328.66 L317.61,327.57 L318.60,326.49 L319.59,325.42 L320.59,324.35 L321.58,323.29 L322.57,322.24 L323.57,321.20 L324.56,320.16 L325.55,319.12 L326.54,318.09 L327.54,317.06 L328.53,316.03 L329.52,315.01 L330.52,313.99 L331.51,312.97 L332.50,311.95 L333.49,310.92 L334.49,309.90 L335.48,308.88 L336.47,307.85 L337.47,306.82 L338.46,305.79 L339.45,304.76 L340.45,303.72 L341.44,302.67 L342.43,301.62 L343.42,300.56 L344.42,299.50 L345.41,298.43 L346.40,297.35 L347.40,296.26 L348.39,295.16 L349.38,294.05 L350.38,292.93 L351.37,291.80 L352.36,290.66 L353.35,289.51 L354.35,288.33 L355.34,287.13 L356.33,285.90 L357.33,284.67 L358.32,283.42 L359.31,282.17 L360.31,280.93 L361.30,279.71 L362.29,278.48 L363.28,277.26 L364.28,276.04 L365.27,274.82 L366.26,273.59 L367.26,272.37 L368.25,271.15 L369.24,269.93 L370.24,268.71 L371.23,267.49 L372.22,266.27 L373.21,265.05 L374.21,263.83 L375.20,262.61" stroke="#00ff00" stroke-width="1.2"/>
<path d="M78.86,545.03 L88.07,537.29 M98.69,528.37 L107.89,520.64 M118.51,511.72 L127.71,503.99 M138.33,495.07 L147.54,487.34 M158.16,478.42 L167.36,470.68 M177.98,461.76 L187.18,454.03 M197.80,445.11 L207.01,437.38 M217.63,428.46 L226.83,420.73 M237.45,411.81 L246.65,404.07 M257.27,395.15 L266.48,387.42 M277.09,378.50 L286.30,370.77 M296.92,361.85 L306.12,354.12 M316.74,345.20 L325.94,337.46 M336.56,328.54 L345.77,320.81 M356.39,311.89 L365.59,304.16" stroke="#000" stroke-width="5.5" stroke-linecap="round"/>
<path d="M78.30,545.50 L94.02,526.82 M95.95,524.53 L113.85,503.27 M115.77,500.98 L133.67,479.72 M135.60,477.43 L153.49,456.17 M155.42,453.88 L173.32,432.62 M175.24,430.33 L193.14,409.07 M195.07,406.78 L212.96,385.52 M214.89,383.23 L232.79,361.97 M234.71,359.68 L252.61,338.42 M254.53,336.13 L272.43,314.87 M274.36,312.58 L292.25,291.32 M294.18,289.03 L312.08,267.77 M314.00,265.48 L331.90,244.22 M333.83,241.93 L351.72,220.67 M353.65,218.38 L371.55,197.11 M373.47,194.83 L375.20,192.77" stroke="#000" stroke-width="1"/>
<path d="M78.86,544.83 L88.07,533.90 M98.69,521.28 L107.89,510.35 M118.51,497.73 L127.71,486.79 M138.33,474.18 L147.54,463.24 M158.16,450.63 L167.36,439.69 M177.98,427.08 L187.18,416.14 M197.80,403.53 L207.01,392.59 M217.63,379.98 L226.83,369.04 M237.45,356.43 L246.65,345.49 M257.27,332.88 L266.48,321.94 M277.09,309.33 L286.30,298.39 M296.92,285.78 L306.12,274.84 M316.74,262.23 L325.94,251.29 M336.56,238.68 L345.77,227.74 M356.39,215.13 L365.59,204.19" stroke="#000" stroke-width="5.5" stroke-linecap="round"/>
<path d="M78.30,545.50 L93.31,523.66 M96.28,519.34 L113.13,494.82 M116.10,490.50 L132.95,465.98 M135.93,461.65 L152.78,437.13 M155.75,432.81 L172.60,408.29 M175.57,403.97 L192.42,379.45 M195.40,375.12 L212.25,350.61 M215.22,346.28 L232.07,321.76 M235.04,317.44 L251.89,292.92 M254.86,288.59 L271.71,264.08 M274.69,259.75 L291.54,235.23 M294.51,230.91 L311.36,206.39 M314.33,202.06 L331.18,177.55 M334.16,173.22 L351.01,148.70 M353.98,144.38 L370.83,119.86 M373.80,115.54 L375.20,113.50" stroke="#000" stroke-width="1"/>
<path d="M78.86,544.68 L88.07,531.29 M98.69,515.84 L107.89,502.44 M118.51,486.99 L127.71,473.60 M138.33,458.15 L147.54,444.76 M158.16,429.31 L167.36,415.91 M177.98,400.46 L187.18,387.07 M197.80,371.62 L207.01,358.23 M217.63,342.78 L226.83,329.39 M237.45,313.93 L246.65,300.54 M257.27,285.09 L266.48,271.70 M277.09,256.25 L286.30,242.86 M296.92,227.41 L306.12,214.01 M316.74,198.56 L325.94,185.17 M336.56,169.72 L345.77,156.33 M356.39,140.88 L365.59,127.48" stroke="#000" stroke-width="5.5" stroke-linecap="round"/>
<path d="M78.30,545.50 L79.29,544.31 L80.29,543.13 L81.28,541.94 L82.27,540.76 L83.26,539.58 L84.26,538.39 L85.25,537.21 L86.24,536.02 L87.24,534.84 L88.23,533.66 L89.22,532.47 L90.22,531.29 L91.21,530.11 L92.20,528.92 L93.19,527.74 L94.19,526.56 L95.18,525.38 L96.17,524.20 L97.17,523.02 L98.16,521.84 L99.15,520.65 L100.15,519.47 L101.14,518.29 L102.13,517.11 L103.12,515.93 L104.12,514.75 L105.11,513.58 L106.10,512.40 L107.10,511.22 L108.09,510.04 L109.08,508.86 L110.08,507.68 L111.07,506.50 L112.06,505.33 L113.05,504.15 L114.05,502.97 L115.04,501.80 L116.03,500.62 L117.03,499.44 L118.02,498.27 L119.01,497.09 L120.01,495.91 L121.00,494.74 L121.99,493.56 L122.98,492.39 L123.98,491.21 L124.97,490.04 L125.96,488.86 L126.96,487.69 L127.95,486.52 L128.94,485.34 L129.93,484.17 L130.93,482.99 L131.92,481.82 L132.91,480.64 L133.91,479.46 L134.90,478.28 L135.89,477.10 L136.89,475.93 L137.88,474.75 L138.87,473.57 L139.86,472.39 L140.86,471.21 L141.85,470.03 L142.84,468.85 L143.84,467.67 L144.83,466.49 L145.82,465.31 L146.82,464.13 L147.81,462.96 L148.80,461.78 L149.79,460.60 L150.79,459.43 L151.78,458.25 L152.77,457.07 L153.77,455.90 L154.76,454.73 L155.75,453.55 L156.75,452.38 L157.74,451.21 L158.73,450.04 L159.72,448.88 L160.72,447.71 L161.71,446.54 L162.70,445.38 L163.70,444.22 L164.69,443.06 L165.68,441.90 L166.67,440.74 L167.67,439.58 L168.66,438.43 L169.65,437.28 L170.65,436.13 L171.64,434.98 L172.63,433.83 L173.63,432.69 L174.62,431.55 L175.61,430.41 L176.60,429.27 L177.60,428.13 L178.59,427.00 L179.58,425.86 L180.58,424.72 L181.57,423.58 L182.56,422.44 L183.56,421.30 L184.55,420.16 L185.54,419.01 L186.53,417.87 L187.53,416.73 L188.52,415.58 L189.51,414.44 L190.51,413.30 L191.50,412.16 L192.49,411.01 L193.49,409.87 L194.48,408.74 L195.47,407.60 L196.46,406.46 L197.46,405.33 L198.45,404.20 L199.44,403.07 L200.44,401.94 L201.43,400.81 L202.42,399.69 L203.42,398.57 L204.41,397.46 L205.40,396.34 L206.39,395.23 L207.39,394.13 L208.38,393.02 L209.37,391.93 L210.37,390.83 L211.36,389.74 L212.35,388.66 L213.34,387.58 L214.34,386.50 L215.33,385.43 L216.32,384.36 L217.32,383.30 L218.31,382.25 L219.30,381.20 L220.30,380.16 L221.29,379.12 L222.28,378.10 L223.27,377.07 L224.27,376.06 L225.26,375.05 L226.25,374.04 L227.25,373.05 L228.24,372.08 L229.23,371.12 L230.23,370.17 L231.22,369.24 L232.21,368.31 L233.20,367.39 L234.20,366.48 L235.19,365.57 L236.18,364.65 L237.18,363.74 L238.17,362.82 L239.16,361.89 L240.16,360.96 L241.15,360.02 L242.14,359.08 L243.13,358.13 L244.13,357.19 L245.12,356.25 L246.11,355.31 L247.11,354.36 L248.10,353.41 L249.09,352.47 L250.08,351.51 L251.08,350.56 L252.07,349.60 L253.06,348.64 L254.06,347.67 L255.05,346.70 L256.04,345.72 L257.04,344.74 L258.03,343.74 L259.02,342.73 L260.01,341.72 L261.01,340.70 L262.00,339.67 L262.99,338.64 L263.99,337.62 L264.98,336.59 L265.97,335.57 L266.97,334.55 L267.96,333.55 L268.95,332.55 L269.94,331.56 L270.94,330.60 L271.93,329.65 L272.92,328.71 L273.92,327.79 L274.91,326.88 L275.90,325.96 L276.90,325.05 L277.89,324.12 L278.88,323.18 L279.87,322.23 L280.87,321.25 L281.86,320.24 L282.85,319.23 L283.85,318.19 L284.84,317.15 L285.83,316.09 L286.83,315.02 L287.82,313.94 L288.81,312.85 L289.80,311.76 L290.80,310.66 L291.79,309.55 L292.78,308.44 L293.78,307.33 L294.77,306.21 L295.76,305.09 L296.75,303.98 L297.75,302.86 L298.74,301.75 L299.73,300.64 L300.73,299.53 L301.72,298.42 L302.71,297.31 L303.71,296.20 L304.70,295.09 L305.69,293.98 L306.68,292.87 L307.68,291.76 L308.67,290.64 L309.66,289.53 L310.66,288.41 L311.65,287.29 L312.64,286.17 L313.64,285.05 L314.63,283.93 L315.62,282.80 L316.61,281.67 L317.61,280.54 L318.60,279.41 L319.59,278.28 L320.59,277.15 L321.58,276.01 L322.57,274.87 L323.57,273.73 L324.56,272.59 L325.55,271.44 L326.54,270.29 L327.54,269.14 L328.53,267.99 L329.52,266.83 L330.52,265.67 L331.51,264.51 L332.50,263.35 L333.49,262.18 L334.49,261.01 L335.48,259.83 L336.47,258.66 L337.47,257.48 L338.46,256.30 L339.45,255.12 L340.45,253.93 L341.44,252.74 L342.43,251.55 L343.42,250.36 L344.42,249.17 L345.41,247.97 L346.40,246.77 L347.40,245.57 L348.39,244.37 L349.38,243.16 L350.38,241.95 L351.37,240.74 L352.36,239.53 L353.35,238.31 L354.35,237.10 L355.34,235.88 L356.33,234.65 L357.33,233.43 L358.32,232.20 L359.31,230.97 L360.31,229.74 L361.30,228.51 L362.29,227.27 L363.28,226.04 L364.28,224.80 L365.27,223.55 L366.26,222.31 L367.26,221.06 L368.25,219.81 L369.24,218.56 L370.24,217.31 L371.23,216.05 L372.22,214.79 L373.21,213.53 L374.21,212.26 L375.20,211.00" stroke="#0000ff" stroke-width="3.8"/>
<path d="M78.30,545.50 L79.29,544.06 L80.29,542.61 L81.28,541.17 L82.27,539.72 L83.26,538.28 L84.26,536.83 L85.25,535.39 L86.24,533.94 L87.24,532.50 L88.23,531.05 L89.22,529.61 L90.22,528.16 L91.21,526.72 L92.20,525.27 L93.19,523.82 L94.19,522.38 L95.18,520.93 L96.17,519.49 L97.17,518.04 L98.16,516.60 L99.15,515.15 L100.15,513.70 L101.14,512.26 L102.13,510.81 L103.12,509.36 L104.12,507.92 L105.11,506.47 L106.10,505.03 L107.10,503.58 L108.09,502.13 L109.08,500.69 L110.08,499.24 L111.07,497.79 L112.06,496.35 L113.05,494.90 L114.05,493.45 L115.04,492.00 L116.03,490.56 L117.03,489.11 L118.02,487.66 L119.01,486.21 L120.01,484.77 L121.00,483.32 L121.99,481.87 L122.98,480.42 L123.98,478.98 L124.97,477.53 L125.96,476.08 L126.96,474.63 L127.95,473.19 L128.94,471.74 L129.93,470.29 L130.93,468.85 L131.92,467.40 L132.91,465.96 L133.91,464.51 L134.90,463.07 L135.89,461.63 L136.89,460.18 L137.88,458.74 L138.87,457.30 L139.86,455.86 L140.86,454.42 L141.85,452.98 L142.84,451.54 L143.84,450.09 L144.83,448.65 L145.82,447.21 L146.82,445.77 L147.81,444.33 L148.80,442.89 L149.79,441.45 L150.79,440.00 L151.78,438.56 L152.77,437.12 L153.77,435.67 L154.76,434.23 L155.75,432.78 L156.75,431.34 L157.74,429.89 L158.73,428.44 L159.72,426.99 L160.72,425.54 L161.71,424.09 L162.70,422.64 L163.70,421.19 L164.69,419.73 L165.68,418.28 L166.67,416.82 L167.67,415.36 L168.66,413.90 L169.65,412.44 L170.65,410.98 L171.64,409.51 L172.63,408.04 L173.63,406.58 L174.62,405.11 L175.61,403.63 L176.60,402.16 L177.60,400.68 L178.59,399.21 L179.58,397.73 L180.58,396.24 L181.57,394.76 L182.56,393.27 L183.56,391.79 L184.55,390.30 L185.54,388.80 L186.53,387.31 L187.53,385.82 L188.52,384.32 L189.51,382.82 L190.51,381.32 L191.50,379.82 L192.49,378.32 L193.49,376.81 L194.48,375.31 L195.47,373.80 L196.46,372.29 L197.46,370.78 L198.45,369.27 L199.44,367.76 L200.44,366.25 L201.43,364.73 L202.42,363.21 L203.42,361.69 L204.41,360.15 L205.40,358.61 L206.39,357.06 L207.39,355.50 L208.38,353.94 L209.37,352.37 L210.37,350.81 L211.36,349.24 L212.35,347.67 L213.34,346.10 L214.34,344.53 L215.33,342.97 L216.32,341.41 L217.32,339.86 L218.31,338.31 L219.30,336.78 L220.30,335.25 L221.29,333.73 L222.28,332.23 L223.27,330.74 L224.27,329.26 L225.26,327.80 L226.25,326.35 L227.25,324.92 L228.24,323.50 L229.23,322.07 L230.23,320.66 L231.22,319.25 L232.21,317.85 L233.20,316.47 L234.20,315.10 L235.19,313.74 L236.18,312.41 L237.18,311.10 L238.17,309.81 L239.16,308.55 L240.16,307.32 L241.15,306.11 L242.14,304.95 L243.13,303.81 L244.13,302.70 L245.12,301.61 L246.11,300.54 L247.11,299.49 L248.10,298.45 L249.09,297.42 L250.08,296.42 L251.08,295.44 L252.07,294.48 L253.06,293.54 L254.06,292.60 L255.05,291.66 L256.04,290.73 L257.04,289.79 L258.03,288.83 L259.02,287.86 L260.01,286.86 L261.01,285.83 L262.00,284.79 L262.99,283.72 L263.99,282.65 L264.98,281.55 L265.97,280.45 L266.97,279.33 L267.96,278.20 L268.95,277.06 L269.94,275.92 L270.94,274.76 L271.93,273.60 L272.92,272.42 L273.92,271.24 L274.91,270.05 L275.90,268.84 L276.90,267.61 L277.89,266.38 L278.88,265.13 L279.87,263.88 L280.87,262.62 L281.86,261.36 L282.85,260.09 L283.85,258.83 L284.84,257.57 L285.83,256.31 L286.83,255.04 L287.82,253.77 L288.81,252.49 L289.80,251.21 L290.80,249.93 L291.79,248.65 L292.78,247.37 L293.78,246.10 L294.77,244.83 L295.76,243.58 L296.75,242.33 L297.75,241.09 L298.74,239.86 L299.73,238.63 L300.73,237.41 L301.72,236.20 L302.71,234.98 L303.71,233.77 L304.70,232.56 L305.69,231.35 L306.68,230.13 L307.68,228.91 L308.67,227.69 L309.66,226.47 L310.66,225.25 L311.65,224.02 L312.64,222.80 L313.64,221.58 L314.63,220.35 L315.62,219.13 L316.61,217.91 L317.61,216.68 L318.60,215.46 L319.59,214.23 L320.59,213.01 L321.58,211.78 L322.57,210.56 L323.57,209.33 L324.56,208.11 L325.55,206.88 L326.54,205.65 L327.54,204.43 L328.53,203.20 L329.52,201.97 L330.52,200.74 L331.51,199.52 L332.50,198.29 L333.49,197.06 L334.49,195.83 L335.48,194.61 L336.47,193.38 L337.47,192.15 L338.46,190.92 L339.45,189.69 L340.45,188.47 L341.44,187.24 L342.43,186.00 L343.42,184.77 L344.42,183.54 L345.41,182.31 L346.40,181.07 L347.40,179.84 L348.39,178.60 L349.38,177.36 L350.38,176.12 L351.37,174.88 L352.36,173.64 L353.35,172.40 L354.35,171.16 L355.34,169.91 L356.33,168.67 L357.33,167.42 L358.32,166.18 L359.31,164.93 L360.31,163.68 L361.30,162.43 L362.29,161.18 L363.28,159.93 L364.28,158.68 L365.27,157.43 L366.26,156.18 L367.26,154.92 L368.25,153.67 L369.24,152.41 L370.24,151.16 L371.23,149.90 L372.22,148.64 L373.21,147.38 L374.21,146.12 L375.20,144.86" stroke="#ff0000" stroke-width="3.8"/>
<path d="M78.30,545.50 L79.29,544.31 L80.29,543.13 L81.28,541.94 L82.27,540.76 L83.26,539.58 L84.26,538.39 L85.25,537.21 L86.24,536.02 L87.24,534.84 L88.23,533.66 L89.22,532.47 L90.22,531.29 L91.21,530.11 L92.20,528.92 L93.19,527.74 L94.19,526.56 L95.18,525.38 L96.17,524.20 L97.17,523.02 L98.16,521.84 L99.15,520.65 L100.15,519.47 L101.14,518.29 L102.13,517.11 L103.12,515.93 L104.12,514.75 L105.11,513.58 L106.10,512.40 L107.10,511.22 L108.09,510.04 L109.08,508.86 L110.08,507.68 L111.07,506.50 L112.06,505.33 L113.05,504.15 L114.05,502.97 L115.04,501.80 L116.03,500.62 L117.03,499.44 L118.02,498.27 L119.01,497.09 L120.01,495.91 L121.00,494.74 L121.99,493.56 L122.98,492.39 L123.98,491.21 L124.97,490.04 L125.96,488.86 L126.96,487.69 L127.95,486.52 L128.94,485.34 L129.93,484.17 L130.93,482.99 L131.92,481.82 L132.91,480.64 L133.91,479.46 L134.90,478.28 L135.89,477.10 L136.89,475.93 L137.88,474.75 L138.87,473.57 L139.86,472.39 L140.86,471.21 L141.85,470.03 L142.84,468.85 L143.84,467.67 L144.83,466.49 L145.82,465.31 L146.82,464.13 L147.81,462.96 L148.80,461.78 L149.79,460.60 L150.79,459.43 L151.78,458.25 L152.77,457.07 L153.77,455.90 L154.76,454.73 L155.75,453.55 L156.75,452.38 L157.74,451.21 L158.73,450.04 L159.72,448.88 L160.72,447.71 L161.71,446.54 L162.70,445.38 L163.70,444.22 L164.69,443.06 L165.68,441.90 L166.67,440.74 L167.67,439.58 L168.66,438.43 L169.65,437.28 L170.65,436.13 L171.64,434.98 L172.63,433.83 L173.63,432.69 L174.62,431.55 L175.61,430.41 L176.60,429.27 L177.60,428.13 L178.59,427.00 L179.58,425.86 L180.58,424.72 L181.57,423.57 L182.56,422.42 L183.56,421.28 L184.55,420.13 L185.54,418.98 L186.53,417.82 L187.53,416.67 L188.52,415.52 L189.51,414.37 L190.51,413.21 L191.50,412.06 L192.49,410.91 L193.49,409.76 L194.48,408.61 L195.47,407.46 L196.46,406.32 L197.46,405.17 L198.45,404.03 L199.44,402.89 L200.44,401.75 L201.43,400.62 L202.42,399.49 L203.42,398.36 L204.41,397.24 L205.40,396.12 L206.39,395.01 L207.39,393.90 L208.38,392.79 L209.37,391.69 L210.37,390.60 L211.36,389.51 L212.35,388.42 L213.34,387.35 L214.34,386.28 L215.33,385.21 L216.32,384.16 L217.32,383.11 L218.31,382.07 L219.30,381.03 L220.30,380.00 L221.29,378.99 L222.28,377.98 L223.27,376.98 L224.27,375.98 L225.26,375.00 L226.25,374.03 L227.25,373.07 L228.24,372.12 L229.23,371.19 L230.23,370.27 L231.22,369.37 L232.21,368.47 L233.20,367.59 L234.20,366.71 L235.19,365.84 L236.18,364.98 L237.18,364.12 L238.17,363.26 L239.16,362.41 L240.16,361.56 L241.15,360.70 L242.14,359.85 L243.13,359.00 L244.13,358.16 L245.12,357.32 L246.11,356.48 L247.11,355.65 L248.10,354.82 L249.09,353.99 L250.08,353.17 L251.08,352.35 L252.07,351.53 L253.06,350.71 L254.06,349.90 L255.05,349.08 L256.04,348.27 L257.04,347.46 L258.03,346.65 L259.02,345.85 L260.01,345.06 L261.01,344.26 L262.00,343.47 L262.99,342.68 L263.99,341.89 L264.98,341.10 L265.97,340.31 L266.97,339.51 L267.96,338.71 L268.95,337.91 L269.94,337.10 L270.94,336.28 L271.93,335.46 L272.92,334.63 L273.92,333.80 L274.91,332.97 L275.90,332.15 L276.90,331.32 L277.89,330.49 L278.88,329.66 L279.87,328.83 L280.87,328.00 L281.86,327.17 L282.85,326.33 L283.85,325.49 L284.84,324.65 L285.83,323.80 L286.83,322.95 L287.82,322.09 L288.81,321.22 L289.80,320.35 L290.80,319.47 L291.79,318.59 L292.78,317.70 L293.78,316.79 L294.77,315.88 L295.76,314.96 L296.75,314.04 L297.75,313.10 L298.74,312.15 L299.73,311.18 L300.73,310.20 L301.72,309.19 L302.71,308.14 L303.71,307.08 L304.70,305.99 L305.69,304.90 L306.68,303.81 L307.68,302.72 L308.67,301.65 L309.66,300.59 L310.66,299.55 L311.65,298.51 L312.64,297.49 L313.64,296.47 L314.63,295.46 L315.62,294.45 L316.61,293.45 L317.61,292.45 L318.60,291.46 L319.59,290.46 L320.59,289.47 L321.58,288.47 L322.57,287.48 L323.57,286.48 L324.56,285.48 L325.55,284.48 L326.54,283.47 L327.54,282.46 L328.53,281.45 L329.52,280.42 L330.52,279.39 L331.51,278.36 L332.50,277.31 L333.49,276.25 L334.49,275.18 L335.48,274.11 L336.47,273.02 L337.47,271.94 L338.46,270.84 L339.45,269.75 L340.45,268.65 L341.44,267.55 L342.43,266.44 L343.42,265.33 L344.42,264.22 L345.41,263.10 L346.40,261.98 L347.40,260.85 L348.39,259.72 L349.38,258.59 L350.38,257.45 L351.37,256.31 L352.36,255.16 L353.35,254.01 L354.35,252.85 L355.34,251.69 L356.33,250.53 L357.33,249.36 L358.32,248.19 L359.31,247.01 L360.31,245.83 L361.30,244.65 L362.29,243.46 L363.28,242.26 L364.28,241.06 L365.27,239.86 L366.26,238.65 L367.26,237.44 L368.25,236.22 L369.24,235.00 L370.24,233.78 L371.23,232.55 L372.22,231.31 L373.21,230.07 L374.21,228.83 L375.20,227.58" stroke="#0000ff" stroke-width="1.2"/>
<path d="M78.30,545.50 L79.29,544.06 L80.29,542.61 L81.28,541.17 L82.27,539.72 L83.26,538.28 L84.26,536.83 L85.25,535.39 L86.24,533.94 L87.24,532.50 L88.23,531.05 L89.22,529.61 L90.22,528.16 L91.21,526.72 L92.20,525.27 L93.19,523.82 L94.19,522.38 L95.18,520.93 L96.17,519.49 L97.17,518.04 L98.16,516.60 L99.15,515.15 L100.15,513.70 L101.14,512.26 L102.13,510.81 L103.12,509.36 L104.12,507.92 L105.11,506.47 L106.10,505.03 L107.10,503.58 L108.09,502.13 L109.08,500.69 L110.08,499.24 L111.07,497.79 L112.06,496.35 L113.05,494.90 L114.05,493.45 L115.04,492.00 L116.03,490.56 L117.03,489.11 L118.02,487.66 L119.01,486.21 L120.01,484.77 L121.00,483.32 L121.99,481.87 L122.98,480.42 L123.98,478.98 L124.97,477.53 L125.96,476.08 L126.96,474.63 L127.95,473.19 L128.94,471.74 L129.93,470.29 L130.93,468.85 L131.92,467.40 L132.91,465.96 L133.91,464.51 L134.90,463.07 L135.89,461.63 L136.89,460.18 L137.88,458.74 L138.87,457.30 L139.86,455.86 L140.86,454.42 L141.85,452.98 L142.84,451.54 L143.84,450.09 L144.83,448.65 L145.82,447.21 L146.82,445.77 L147.81,444.33 L148.80,442.89 L149.79,441.45 L150.79,440.00 L151.78,438.56 L152.77,437.12 L153.77,435.67 L154.76,434.23 L155.75,432.78 L156.75,431.34 L157.74,429.89 L158.73,428.44 L159.72,426.99 L160.72,425.54 L161.71,424.09 L162.70,422.64 L163.70,421.19 L164.69,419.73 L165.68,418.28 L166.67,416.82 L167.67,415.36 L168.66,413.90 L169.65,412.44 L170.65,410.98 L171.64,409.51 L172.63,408.04 L173.63,406.58 L174.62,405.11 L175.61,403.63 L176.60,402.16 L177.60,400.68 L178.59,399.21 L179.58,397.73 L180.58,396.25 L181.57,394.77 L182.56,393.29 L183.56,391.81 L184.55,390.33 L185.54,388.85 L186.53,387.36 L187.53,385.87 L188.52,384.38 L189.51,382.89 L190.51,381.40 L191.50,379.90 L192.49,378.40 L193.49,376.90 L194.48,375.39 L195.47,373.88 L196.46,372.37 L197.46,370.85 L198.45,369.33 L199.44,367.81 L200.44,366.28 L201.43,364.74 L202.42,363.20 L203.42,361.66 L204.41,360.10 L205.40,358.54 L206.39,356.97 L207.39,355.40 L208.38,353.82 L209.37,352.23 L210.37,350.64 L211.36,349.05 L212.35,347.46 L213.34,345.86 L214.34,344.26 L215.33,342.66 L216.32,341.06 L217.32,339.47 L218.31,337.87 L219.30,336.27 L220.30,334.68 L221.29,333.10 L222.28,331.51 L223.27,329.93 L224.27,328.36 L225.26,326.80 L226.25,325.24 L227.25,323.69 L228.24,322.16 L229.23,320.64 L230.23,319.11 L231.22,317.57 L232.21,316.00 L233.20,314.41 L234.20,312.79 L235.19,311.17 L236.18,309.53 L237.18,307.90 L238.17,306.26 L239.16,304.63 L240.16,302.99 L241.15,301.30 L242.14,299.56 L243.13,297.78 L244.13,295.98 L245.12,294.17 L246.11,292.35 L247.11,290.55 L248.10,288.78 L249.09,287.04 L250.08,285.35 L251.08,283.73 L252.07,282.19 L253.06,280.73 L254.06,279.38 L255.05,278.14 L256.04,277.03 L257.04,276.03 L258.03,275.11 L259.02,274.26 L260.01,273.47 L261.01,272.72 L262.00,272.00 L262.99,271.29 L263.99,270.58 L264.98,269.87 L265.97,269.13 L266.97,268.35 L267.96,267.52 L268.95,266.62 L269.94,265.65 L270.94,264.63 L271.93,263.60 L272.92,262.59 L273.92,261.63 L274.91,260.71 L275.90,259.82 L276.90,258.96 L277.89,258.10 L278.88,257.25 L279.87,256.40 L280.87,255.54 L281.86,254.66 L282.85,253.75 L283.85,252.82 L284.84,251.84 L285.83,250.81 L286.83,249.73 L287.82,248.59 L288.81,247.42 L289.80,246.23 L290.80,245.02 L291.79,243.81 L292.78,242.62 L293.78,241.44 L294.77,240.30 L295.76,239.21 L296.75,238.17 L297.75,237.18 L298.74,236.21 L299.73,235.28 L300.73,234.36 L301.72,233.46 L302.71,232.56 L303.71,231.66 L304.70,230.76 L305.69,229.85 L306.68,228.93 L307.68,227.97 L308.67,227.00 L309.66,226.01 L310.66,225.00 L311.65,223.99 L312.64,222.97 L313.64,221.94 L314.63,220.91 L315.62,219.87 L316.61,218.83 L317.61,217.80 L318.60,216.77 L319.59,215.74 L320.59,214.71 L321.58,213.70 L322.57,212.69 L323.57,211.69 L324.56,210.70 L325.55,209.70 L326.54,208.69 L327.54,207.68 L328.53,206.65 L329.52,205.60 L330.52,204.53 L331.51,203.46 L332.50,202.37 L333.49,201.26 L334.49,200.15 L335.48,199.03 L336.47,197.91 L337.47,196.77 L338.46,195.63 L339.45,194.48 L340.45,193.33 L341.44,192.17 L342.43,191.01 L343.42,189.85 L344.42,188.68 L345.41,187.52 L346.40,186.35 L347.40,185.19 L348.39,184.02 L349.38,182.85 L350.38,181.68 L351.37,180.51 L352.36,179.34 L353.35,178.16 L354.35,176.98 L355.34,175.80 L356.33,174.62 L357.33,173.43 L358.32,172.24 L359.31,171.05 L360.31,169.86 L361.30,168.66 L362.29,167.46 L363.28,166.26 L364.28,165.06 L365.27,163.85 L366.26,162.64 L367.26,161.43 L368.25,160.21 L369.24,158.99 L370.24,157.77 L371.23,156.55 L372.22,155.32 L373.21,154.09 L374.21,152.86 L375.20,151.62" stroke="#ff0000" stroke-width="1.2"/>
<path d="M236.65,310.94 L236.75,310.74 L236.86,310.55 L236.97,310.36 L237.07,310.17 L237.18,309.97 L237.29,309.78 L237.39,309.59 L237.50,309.40 L237.61,309.21 L237.71,309.01 L237.82,308.82 L237.93,308.63 L238.03,308.45 L238.14,308.26 L238.25,308.07 L238.35,307.88 L238.46,307.70 L238.57,307.52 L238.67,307.33 L238.78,307.15 L238.88,306.97 L238.99,306.78 L239.10,306.60 L239.20,306.42 L239.31,306.24 L239.42,306.05 L239.52,305.87 L239.63,305.69 L239.74,305.51 L239.84,305.33 L239.95,305.14 L240.06,304.96 L240.16,304.78 L240.27,304.60 L240.38,304.42 L240.48,304.24 L240.59,304.06 L240.70,303.88 L240.80,303.70 L240.91,303.52 L241.02,303.34 L241.12,303.15 L241.23,302.98 L241.34,302.80 L241.44,302.62 L241.55,302.44 L241.66,302.26 L241.76,302.08 L241.87,301.90 L241.98,301.72 L242.08,301.54 L242.19,301.37 L242.30,301.19 L242.40,301.01 L242.51,300.83 L242.62,300.66 L242.72,300.48 L242.83,300.30 L242.93,300.13 L243.04,299.95 L243.15,299.77 L243.25,299.60 L243.36,299.42 L243.47,299.25 L243.57,299.07 L243.68,298.90 L243.79,298.73 L243.89,298.55 L244.00,298.38 L244.11,298.21 L244.21,298.03 L244.32,297.86 L244.43,297.69 L244.53,297.52 L244.64,297.35 L244.75,297.18 L244.85,297.01 L244.96,296.83 L245.07,296.67 L245.17,296.50 L245.28,296.33 L245.39,296.16 L245.49,295.99 L245.60,295.82 L245.71,295.65 L245.81,295.49 L245.92,295.32 L246.03,295.15 L246.13,294.99 L246.24,294.82 L246.35,294.66 L246.45,294.49 L246.56,294.33 L246.67,294.17 L246.77,294.00 L246.88,293.84 L246.98,293.68 L247.09,293.52 L247.20,293.36 L247.30,293.20 L247.41,293.03 L247.52,292.88 L247.62,292.72 L247.73,292.56 L247.84,292.40 L247.94,292.24 L248.05,292.08 L248.16,291.93 L248.26,291.77 L248.37,291.62 L248.48,291.46 L248.58,291.31 L248.69,291.15 L248.80,291.00 L248.90,290.84 L249.01,290.69 L249.12,290.54 L249.22,290.38 L249.33,290.23 L249.44,290.08 L249.54,289.92 L249.65,289.77 L249.76,289.62 L249.86,289.47 L249.97,289.32 L250.08,289.17 L250.18,289.02 L250.29,288.87 L250.40,288.72 L250.50,288.57 L250.61,288.42 L250.72,288.27 L250.82,288.12 L250.93,287.97 L251.03,287.82 L251.14,287.67 L251.25,287.52 L251.35,287.38 L251.46,287.23 L251.57,287.08 L251.67,286.93 L251.78,286.79 L251.89,286.64 L251.99,286.49 L252.10,286.35 L252.21,286.20 L252.31,286.06 L252.42,285.91 L252.53,285.77 L252.63,285.62 L252.74,285.48 L252.85,285.33 L252.95,285.19 L253.06,285.05 L253.17,284.90 L253.27,284.76 L253.38,284.62 L253.49,284.47 L253.59,284.33 L253.70,284.19 L253.81,284.05 L253.91,283.91 L254.02,283.76 L254.13,283.62 L254.23,283.48 L254.34,283.34 L254.45,283.20 L254.55,283.06 L254.66,282.92 L254.77,282.78 L254.87,282.64 L254.98,282.51 L255.08,282.37 L255.19,282.23 L255.30,282.09 L255.40,281.95 L255.51,281.81 L255.62,281.68 L255.72,281.54 L255.83,281.40 L255.94,281.27 L256.04,281.13 L256.15,280.99 L256.26,280.86 L256.36,280.72 L256.47,280.59 L256.58,280.45 L256.68,280.32 L256.79,280.18 L256.90,280.05 L257.00,279.91 L257.11,279.78 L257.22,279.65 L257.32,279.51 L257.43,279.38 L257.54,279.25 L257.64,279.11 L257.75,278.98 L257.86,278.85 L257.96,278.72 L258.07,278.59 L258.18,278.46 L258.28,278.32 L258.39,278.19 L258.50,278.06 L258.60,277.93 L258.71,277.80 L258.82,277.67 L258.92,277.54 L259.03,277.41 L259.13,277.29 L259.24,277.16 L259.35,277.03 L259.45,276.90 L259.56,276.77 L259.67,276.64 L259.77,276.52 L259.88,276.39 L259.99,276.26 L260.09,276.14 L260.20,276.01 L260.31,275.88 L260.41,275.76 L260.52,275.63 L260.63,275.51 L260.73,275.38 L260.84,275.26 L260.95,275.13 L261.05,275.01 L261.16,274.88 L261.27,274.76 L261.37,274.63 L261.48,274.51 L261.59,274.39 L261.69,274.27 L261.80,274.14 L261.91,274.02 L262.01,273.90 L262.12,273.78 L262.23,273.66 L262.33,273.54 L262.44,273.42 L262.55,273.30 L262.65,273.18 L262.76,273.06 L262.87,272.94 L262.97,272.82 L263.08,272.70 L263.18,272.58 L263.29,272.46 L263.40,272.35 L263.50,272.23 L263.61,272.11 L263.72,271.99 L263.82,271.88 L263.93,271.76 L264.04,271.65 L264.14,271.53 L264.25,271.41 L264.36,271.30 L264.46,271.18 L264.57,271.07 L264.68,270.96 L264.78,270.84 L264.89,270.73 L265.00,270.62 L265.10,270.50 L265.21,270.39 L265.32,270.28 L265.42,270.16 L265.53,270.05 L265.64,269.94 L265.74,269.83 L265.85,269.72 L265.96,269.61 L266.06,269.50 L266.17,269.39 L266.28,269.28 L266.38,269.17 L266.49,269.06 L266.60,268.95 L266.70,268.84 L266.81,268.73 L266.92,268.62 L267.02,268.51 L267.13,268.40 L267.23,268.30 L267.34,268.19 L267.45,268.08 L267.55,267.98 L267.66,267.87 L267.77,267.76 L267.87,267.66 L267.98,267.55 L268.09,267.44 L268.19,267.34 L268.30,267.23 L268.41,267.13 L268.51,267.02" stroke="#ff0000" stroke-width="1.2"/>
<path d="M78.86,544.83 L88.07,533.90 M98.69,521.28 L107.89,510.35 M118.51,497.73 L127.71,486.79 M138.33,474.18 L147.54,463.24 M158.16,450.63 L167.36,439.69 M177.98,427.08 L187.18,416.14 M197.80,403.53 L207.01,392.59 M217.63,379.98 L226.83,369.04 M237.45,356.43 L246.65,345.49 M257.27,332.88 L266.48,321.94 M277.09,309.33 L286.30,298.39 M296.92,285.78 L306.12,274.84 M316.74,262.23 L325.94,251.29 M336.56,238.68 L345.77,227.74 M356.39,215.13 L365.59,204.19" stroke="#000" stroke-width="1" stroke-dasharray="3.4 2.8" stroke-dashoffset="-1.5" opacity="0.9"/>
<path d="M78.86,544.68 L88.07,531.29 M98.69,515.84 L107.89,502.44 M118.51,486.99 L127.71,473.60 M138.33,458.15 L147.54,444.76 M158.16,429.31 L167.36,415.91 M177.98,400.46 L187.18,387.07 M197.80,371.62 L207.01,358.23 M217.63,342.78 L226.83,329.39 M237.45,313.93 L246.65,300.54 M257.27,285.09 L266.48,271.70 M277.09,256.25 L286.30,242.86 M296.92,227.41 L306.12,214.01 M316.74,198.56 L325.94,185.17 M336.56,169.72 L345.77,156.33 M356.39,140.88 L365.59,127.48" stroke="#000" stroke-width="1" stroke-dasharray="3.4 2.8" stroke-dashoffset="-1.5" opacity="0.9"/>
</g>
<rect x="78.30" y="75.20" width="296.90" height="470.30" fill="none" stroke="#000" stroke-width="1.1"/>
<path d="M78.30,545.5 v-5.4 M78.30,75.2 v5.4 M103.04,545.5 v-3.0 M103.04,75.2 v3.0 M127.78,545.5 v-5.4 M127.78,75.2 v5.4 M152.52,545.5 v-3.0 M152.52,75.2 v3.0 M177.27,545.5 v-5.4 M177.27,75.2 v5.4 M202.01,545.5 v-3.0 M202.01,75.2 v3.0 M226.75,545.5 v-5.4 M226.75,75.2 v5.4 M251.49,545.5 v-3.0 M251.49,75.2 v3.0 M276.23,545.5 v-5.4 M276.23,75.2 v5.4 M300.97,545.5 v-3.0 M300.97,75.2 v3.0 M325.72,545.5 v-5.4 M325.72,75.2 v5.4 M350.46,545.5 v-3.0 M350.46,75.2 v3.0 M375.20,545.5 v-5.4 M375.20,75.2 v5.4 M78.3,545.50 h4.3 M375.2,545.50 h-4.3 M78.3,486.71 h2.6 M375.2,486.71 h-2.6 M78.3,427.93 h4.3 M375.2,427.93 h-4.3 M78.3,369.14 h2.6 M375.2,369.14 h-2.6 M78.3,310.35 h4.3 M375.2,310.35 h-4.3 M78.3,251.56 h2.6 M375.2,251.56 h-2.6 M78.3,192.77 h4.3 M375.2,192.77 h-4.3 M78.3,133.99 h2.6 M375.2,133.99 h-2.6 M78.3,75.20 h4.3 M375.2,75.20 h-4.3" stroke="#000" stroke-width="1" fill="none"/>
<text transform="translate(78.30,565.00) scale(0.86,1)" text-anchor="middle" font-family="Liberation Sans, sans-serif" font-size="16.7" fill="#000" >0.0</text>
<text transform="translate(127.78,565.00) scale(0.86,1)" text-anchor="middle" font-family="Liberation Sans, sans-serif" font-size="16.7" fill="#000" >0.5</text>
<text transform="translate(177.27,565.00) scale(0.86,1)" text-anchor="middle" font-family="Liberation Sans, sans-serif" font-size="16.7" fill="#000" >1.0</text>
<text transform="translate(226.75,565.00) scale(0.86,1)" text-anchor="middle" font-family="Liberation Sans, sans-serif" font-size="16.7" fill="#000" >1.5</text>
<text transform="translate(276.23,565.00) scale(0.86,1)" text-anchor="middle" font-family="Liberation Sans, sans-serif" font-size="16.7" fill="#000" >2.0</text>
<text transform="translate(325.72,565.00) scale(0.86,1)" text-anchor="middle" font-family="Liberation Sans, sans-serif" font-size="16.7" fill="#000" >2.5</text>
<text transform="translate(375.20,565.00) scale(0.86,1)" text-anchor="middle" font-family="Liberation Sans, sans-serif" font-size="16.7" fill="#000" >3.0</text>
<text transform="translate(74.00,550.30) scale(0.86,1)" text-anchor="end" font-family="Liberation Sans, sans-serif" font-size="16.7" fill="#000" >0</text>
<text transform="translate(74.00,432.73) scale(0.86,1)" text-anchor="end" font-family="Liberation Sans, sans-serif" font-size="16.7" fill="#000" >2</text>
<text transform="translate(74.00,315.15) scale(0.86,1)" text-anchor="end" font-family="Liberation Sans, sans-serif" font-size="16.7" fill="#000" >4</text>
<text transform="translate(74.00,197.57) scale(0.86,1)" text-anchor="end" font-family="Liberation Sans, sans-serif" font-size="16.7" fill="#000" >6</text>
<text transform="translate(74.00,80.00) scale(0.86,1)" text-anchor="end" font-family="Liberation Sans, sans-serif" font-size="16.7" fill="#000" >8</text>
<g transform="translate(57.0,123.8) rotate(-90)">
<text x="0" y="0" font-family="Liberation Serif, serif" font-size="21.5" fill="#000">E</text>
<text x="15.2" y="5.8" font-family="Liberation Serif, serif" font-size="14.3" fill="#000">n0</text>
<path d="M0.3,-17.7 h12.8" stroke="#000" stroke-width="1" fill="none"/>
</g>
<text transform="translate(349.2,593.7) scale(0.68,1)" font-family="Liberation Serif, serif" font-size="19.8" fill="#000">B</text>
<path d="M349.8,577.9 h7.6" stroke="#000" stroke-width="1" fill="none"/>
<path d="M337.4,586.6 l1.8,-1.2 l3.6,8.8 l5.4,-20.9 h11.8" stroke="#000" stroke-width="1" fill="none"/>
<text transform="translate(283.30,103.70) scale(0.8,1)" text-anchor="start" font-family="Liberation Serif, serif" font-size="21.8" fill="#000" >U</text>
<text transform="translate(315.20,103.70) scale(0.86,1)" text-anchor="start" font-family="Liberation Serif, serif" font-size="21.8" fill="#000" >1</text>
<path d="M300.9,95.05 h9.7 M300.9,99.6 h9.7" stroke="#000" stroke-width="1.75" fill="none"/>
<text transform="translate(287.40,131.40) scale(0.8,1)" text-anchor="start" font-family="Liberation Serif, serif" font-size="21.8" fill="#000" >χ</text>
<text transform="translate(315.70,131.60) scale(0.86,1)" text-anchor="start" font-family="Liberation Serif, serif" font-size="21.8" fill="#000" >1</text>
<path d="M300.9,123.95 h9.7 M300.9,128.5 h9.7" stroke="#000" stroke-width="1.75" fill="none"/>
<path d="M144.9,85.30 H166.1" stroke="#00ff00" stroke-width="1.15" stroke-dasharray="1.8 2.9" fill="none"/>
<path d="M143.8,98.16 H164.4" stroke="#0000ff" stroke-width="1.15" stroke-dasharray="1.8 2.9" fill="none"/>
<path d="M141.8,111.01 H162.8" stroke="#ff0000" stroke-width="1.15" stroke-dasharray="1.8 2.9" fill="none"/>
<path d="M145.3,123.86 h7.3 m5.6,0 h7.3" stroke="#00ff00" stroke-width="1.9" fill="none"/>
<path d="M143.8,136.72 h7.3 m5.6,0 h7.3" stroke="#0000ff" stroke-width="1.9" fill="none"/>
<path d="M143.8,149.57 h7.3 m5.6,0 h7.3" stroke="#ff0000" stroke-width="1.9" fill="none"/>
<path d="M143.4,162.43 H163.0" stroke="#00ff00" stroke-width="2.5" stroke-linecap="round" fill="none"/>
<path d="M144.6,175.28 H163.8" stroke="#0000ff" stroke-width="3.7" stroke-linecap="round" fill="none"/>
<path d="M144.6,188.14 H163.8" stroke="#ff0000" stroke-width="3.7" stroke-linecap="round" fill="none"/>
<path d="M143.2,201.00 H163.0" stroke="#00ff00" stroke-width="1.25" fill="none"/>
<path d="M144.2,213.85 H163.9" stroke="#0000ff" stroke-width="1.25" fill="none"/>
<path d="M144.2,226.70 H163.9" stroke="#ff0000" stroke-width="1.25" fill="none"/>
<text transform="translate(131.00,88.50) scale(0.85,1)" text-anchor="start" font-family="Liberation Serif, serif" font-size="9.6" fill="#000" >2/3</text>
<text transform="translate(131.40,127.06) scale(0.85,1)" text-anchor="start" font-family="Liberation Serif, serif" font-size="9.6" fill="#000" >1/2</text>
<text transform="translate(131.80,165.63) scale(0.85,1)" text-anchor="start" font-family="Liberation Serif, serif" font-size="9.6" fill="#000" >1</text>
<text transform="translate(131.30,204.19) scale(0.85,1)" text-anchor="start" font-family="Liberation Serif, serif" font-size="9.6" fill="#000" >2</text>
<path d="M117.3,85.0 C115.3,86.0 114.4,87.8 114.4,92 V152 C114.4,156.5 113.7,158.8 111.4,160.2 C113.7,161.6 114.4,163.9 114.4,168.4 V224 C114.4,228.5 115.2,230.6 117.2,231.8" stroke="#000" stroke-width="0.9" fill="none"/>
<text transform="translate(91.40,165.40) scale(0.52,1)" text-anchor="start" font-family="Liberation Serif, serif" font-size="27.5" fill="#000" font-style="italic">p</text>
<path d="M101.6,156.6 h6.9 M101.6,161 h6.9" stroke="#000" stroke-width="1.7" fill="none"/>
</svg>
</body></html>
